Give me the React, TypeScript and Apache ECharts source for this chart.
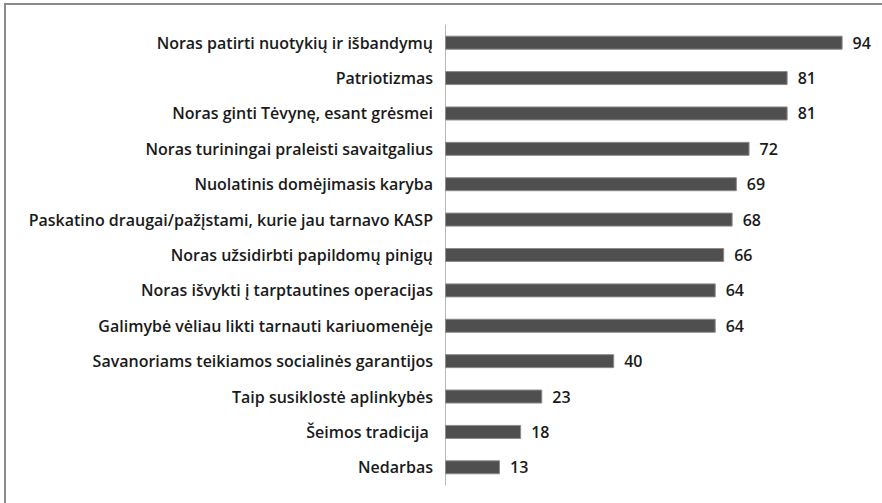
import React, { useEffect, useRef } from "react";
import * as echarts from "echarts";

const categories = [
  "Noras patirti nuotykių ir išbandymų",
  "Patriotizmas",
  "Noras ginti Tėvynę, esant grėsmei",
  "Noras turiningai praleisti savaitgalius",
  "Nuolatinis domėjimasis karyba",
  "Paskatino draugai/pažįstami, kurie jau tarnavo KASP",
  "Noras užsidirbti papildomų pinigų",
  "Noras išvykti į tarptautines operacijas",
  "Galimybė vėliau likti tarnauti kariuomenėje",
  "Savanoriams teikiamos socialinės garantijos",
  "Taip susiklostė aplinkybės",
  "Šeimos tradicija ",
  "Nedarbas",
];
const values = [94, 81, 81, 72, 69, 68, 66, 64, 64, 40, 23, 18, 13];

export default function App() {
  const ref = useRef<HTMLDivElement>(null);
  useEffect(() => {
    document.body.style.margin = "0";
    const chart = echarts.init(ref.current!, null, { renderer: "svg" });
    const font = "'Open Sans', sans-serif";
    chart.setOption({
      animation: false,
      backgroundColor: "#ffffff",
      graphic: [
        {
          type: "rect",
          shape: { x: 5, y: 4, width: 900, height: 520 },
          style: { fill: "none", stroke: "#8a8a8a", lineWidth: 2 },
          silent: true,
        },
      ],
      grid: { left: 445, top: 25, width: 423, height: 460, containLabel: false },
      xAxis: {
        type: "value",
        min: 0,
        max: 100,
        show: false,
      },
      yAxis: {
        type: "category",
        inverse: true,
        data: categories,
        axisLine: { show: true, lineStyle: { color: "#b8b8b8", width: 1 } },
        axisTick: { show: false },
        axisLabel: {
          color: "#1a1a1a",
          fontFamily: font,
          fontWeight: 600,
          fontSize: 16,
          margin: 12,
        },
      },
      series: [
        {
          type: "bar",
          data: values,
          barWidth: 14,
          itemStyle: { color: "#4f4f4f", borderColor: "#8c8c8c", borderWidth: 1 },
          label: {
            show: true,
            position: "right",
            distance: 10,
            color: "#1a1a1a",
            fontFamily: font,
            fontWeight: 600,
            fontSize: 16,
          },
        },
      ],
    });
    return () => chart.dispose();
  }, []);
  return <div ref={ref} style={{ width: 882, height: 503 }} />;
}
